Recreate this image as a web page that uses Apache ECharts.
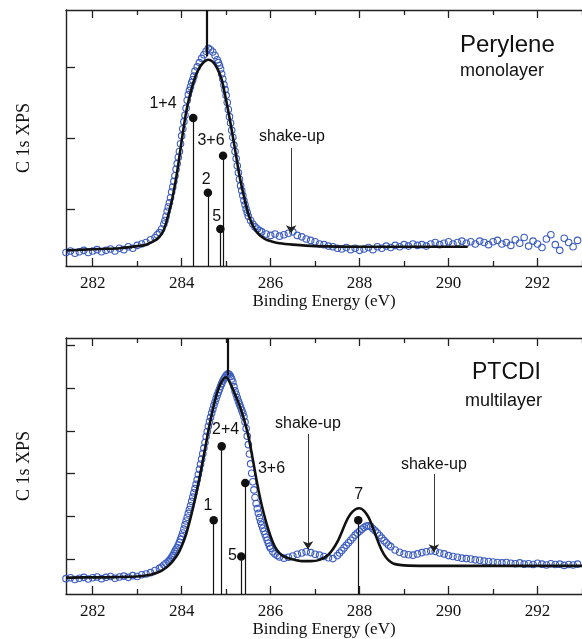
<!DOCTYPE html>
<html>
<head>
<meta charset="utf-8">
<script src="https://cdn.jsdelivr.net/npm/echarts@6/dist/echarts.min.js"></script>
<style>
  html, body { margin: 0; padding: 0; background: #fff; }
  #chart { width: 582px; height: 639px; }
</style>
</head>
<body>
<div id="chart"></div>
<script>
// ===== axis ticks =====
const majorTicks = [282, 284, 286, 288, 290, 292]
const minorTicks = [283, 285, 287, 289, 291, 293]
const topYTicks = [0.8, 1.8, 2.8]
const bottomYTicks = [0.82, 1.82, 2.82, 3.82, 4.82, 5.82]

// ===== Perylene monolayer (top) =====
// measured points [binding energy, intensity]
const topData = [
  [281.4,0.19],[281.5,0.21],[281.6,0.18],[281.7,0.20],[281.8,0.22],[281.9,0.19],[282.0,0.21],[282.1,0.23],
  [282.2,0.20],[282.3,0.22],[282.4,0.24],[282.5,0.21],[282.6,0.25],[282.7,0.23],[282.8,0.27],[282.9,0.25],
  [283.0,0.29],[283.1,0.31],[283.2,0.33],[283.3,0.37],[283.4,0.40],[283.45,0.44],[283.5,0.47],[283.55,0.52],
  [283.6,0.59],[283.625,0.64],[283.65,0.70],[283.675,0.77],[283.7,0.83],[283.725,0.89],[283.75,0.96],[283.775,1.04],
  [283.8,1.11],[283.825,1.19],[283.85,1.27],[283.875,1.36],[283.9,1.44],[283.925,1.53],[283.95,1.61],[283.975,1.72],
  [284.0,1.83],[284.025,1.93],[284.05,2.03],[284.075,2.12],[284.1,2.22],[284.125,2.33],[284.15,2.41],[284.175,2.47],
  [284.2,2.52],[284.225,2.58],[284.25,2.62],[284.275,2.67],[284.3,2.74],[284.35,2.80],[284.4,2.86],[284.45,2.92],
  [284.5,2.97],[284.55,3.02],[284.6,3.06],[284.65,3.04],[284.7,3.01],[284.75,2.96],[284.8,2.90],[284.825,2.86],
  [284.85,2.82],[284.875,2.77],[284.9,2.70],[284.925,2.63],[284.95,2.55],[284.975,2.48],[285.0,2.40],[285.025,2.30],
  [285.05,2.20],[285.075,2.10],[285.1,2.01],[285.125,1.91],[285.15,1.81],[285.175,1.70],[285.2,1.61],[285.225,1.51],
  [285.25,1.41],[285.275,1.31],[285.3,1.22],[285.325,1.13],[285.35,1.06],[285.375,0.99],[285.4,0.92],[285.425,0.86],
  [285.45,0.80],[285.475,0.75],[285.5,0.70],[285.55,0.64],[285.6,0.59],[285.65,0.55],[285.7,0.52],[285.75,0.50],
  [285.8,0.48],[285.9,0.45],[286.0,0.43],[286.1,0.45],[286.2,0.42],[286.3,0.44],[286.4,0.46],[286.5,0.48],
  [286.6,0.43],[286.7,0.41],[286.8,0.38],[286.9,0.36],[287.0,0.34],[287.1,0.31],[287.2,0.30],[287.3,0.28],
  [287.4,0.27],[287.5,0.25],[287.6,0.24],[287.7,0.26],[287.8,0.23],[287.9,0.25],[288.0,0.22],[288.1,0.24],
  [288.2,0.26],[288.3,0.23],[288.4,0.27],[288.5,0.25],[288.6,0.28],[288.7,0.26],[288.8,0.29],[288.9,0.27],
  [289.0,0.30],[289.1,0.28],[289.2,0.31],[289.3,0.29],[289.4,0.30],[289.5,0.28],[289.6,0.31],[289.7,0.33],
  [289.8,0.30],[289.9,0.32],[290.0,0.34],[290.1,0.31],[290.2,0.33],[290.3,0.35],[290.4,0.32],[290.5,0.34],
  [290.6,0.31],[290.7,0.35],[290.8,0.33],[290.9,0.30],[291.0,0.34],[291.1,0.36],[291.2,0.31],[291.3,0.33],
  [291.4,0.29],[291.5,0.37],[291.6,0.32],[291.7,0.40],[291.8,0.28],[291.9,0.35],[292.0,0.31],[292.1,0.26],
  [292.2,0.38],[292.3,0.44],[292.4,0.30],[292.5,0.22],[292.6,0.39],[292.7,0.33],[292.8,0.27],[292.9,0.36]
]
// fitted curve
const topFit = [
  [281.4,0.22],[281.8,0.23],[282.2,0.24],[282.6,0.25],[283.0,0.28],[283.2,0.30],[283.4,0.36],[283.5,0.41],
  [283.6,0.51],[283.7,0.72],[283.8,0.98],[283.9,1.33],[284.0,1.76],[284.1,2.16],[284.2,2.44],[284.3,2.65],
  [284.4,2.79],[284.5,2.87],[284.6,2.90],[284.7,2.87],[284.8,2.78],[284.9,2.62],[285.0,2.33],[285.1,2.00],
  [285.2,1.64],[285.3,1.27],[285.4,0.98],[285.5,0.73],[285.6,0.57],[285.7,0.47],[285.8,0.41],[285.9,0.37],
  [286.0,0.35],[286.2,0.32],[286.5,0.30],[287.0,0.28],[288.0,0.27],[289.0,0.27],[290.0,0.27],[290.43,0.27]
]
// component sticks [energy, height]
const topSticks = [[284.26,2.08],[284.59,1.03],[284.87,0.52],[284.93,1.55]]
// text [energy, intensity, text]
const topLabels = [
  [283.58,2.28,'1+4'],[284.55,1.21,'2'],[284.66,1.77,'3+6'],[284.79,0.70,'5'],[286.48,1.82,'shake-up']
]
// arrows [energy, from, to]
const topArrows = [[286.46,1.66,0.46]]
// peak marker [energy, from, to]
const topPeak = [284.57,2.95,3.6]

// ===== PTCDI multilayer (bottom) =====
const bottomData = [
  [281.4,0.36],[281.5,0.38],[281.6,0.34],[281.7,0.37],[281.8,0.39],[281.9,0.35],[282.0,0.38],[282.1,0.40],
  [282.2,0.36],[282.3,0.39],[282.4,0.41],[282.5,0.37],[282.6,0.40],[282.7,0.42],[282.8,0.39],[282.9,0.43],
  [283.0,0.41],[283.1,0.45],[283.2,0.47],[283.3,0.50],[283.4,0.55],[283.5,0.60],[283.55,0.63],[283.6,0.68],
  [283.65,0.72],[283.7,0.76],[283.725,0.79],[283.75,0.82],[283.775,0.86],[283.8,0.90],[283.825,0.95],[283.85,1.00],
  [283.875,1.05],[283.9,1.09],[283.925,1.15],[283.95,1.21],[283.975,1.28],[284.0,1.35],[284.025,1.43],[284.05,1.52],
  [284.075,1.62],[284.1,1.71],[284.125,1.80],[284.15,1.89],[284.175,1.98],[284.2,2.07],[284.225,2.17],[284.25,2.27],
  [284.275,2.37],[284.3,2.47],[284.325,2.57],[284.35,2.68],[284.375,2.80],[284.4,2.92],[284.425,3.04],[284.45,3.16],
  [284.475,3.29],[284.5,3.42],[284.525,3.55],[284.55,3.69],[284.575,3.81],[284.6,3.93],[284.625,4.04],[284.65,4.14],
  [284.675,4.24],[284.7,4.33],[284.725,4.42],[284.75,4.50],[284.775,4.58],[284.8,4.66],[284.825,4.73],[284.85,4.80],
  [284.875,4.87],[284.9,4.93],[284.925,4.99],[284.95,5.04],[284.975,5.08],[285.0,5.12],[285.025,5.15],[285.05,5.16],
  [285.075,5.14],[285.1,5.10],[285.125,5.04],[285.15,4.97],[285.175,4.86],[285.2,4.76],[285.225,4.68],[285.25,4.60],
  [285.275,4.52],[285.3,4.45],[285.325,4.38],[285.35,4.31],[285.375,4.24],[285.4,4.16],[285.425,4.03],[285.45,3.88],
  [285.475,3.70],[285.5,3.50],[285.525,3.28],[285.55,3.05],[285.575,2.83],[285.6,2.63],[285.625,2.44],[285.65,2.26],
  [285.675,2.12],[285.7,2.00],[285.725,1.89],[285.75,1.79],[285.775,1.70],[285.8,1.62],[285.825,1.54],[285.85,1.47],
  [285.875,1.40],[285.9,1.33],[285.925,1.26],[285.95,1.19],[285.975,1.12],[286.0,1.07],[286.05,0.99],[286.1,0.94],
  [286.15,0.90],[286.2,0.87],[286.3,0.84],[286.4,0.86],[286.5,0.89],[286.6,0.93],[286.7,0.96],[286.8,0.99],
  [286.9,0.97],[287.0,0.93],[287.1,0.91],[287.2,0.88],[287.3,0.85],[287.4,0.83],[287.5,0.90],[287.55,0.96],
  [287.6,1.02],[287.65,1.08],[287.7,1.14],[287.75,1.20],[287.8,1.26],[287.85,1.32],[287.9,1.38],[287.95,1.43],
  [288.0,1.47],[288.05,1.52],[288.1,1.56],[288.15,1.59],[288.2,1.60],[288.25,1.58],[288.3,1.53],[288.35,1.48],
  [288.4,1.43],[288.45,1.37],[288.5,1.31],[288.55,1.25],[288.6,1.20],[288.65,1.15],[288.7,1.11],[288.8,1.03],
  [288.9,0.98],[289.0,0.94],[289.1,0.92],[289.2,0.91],[289.3,0.94],[289.4,0.97],[289.5,0.99],[289.6,1.01],
  [289.7,1.00],[289.8,0.96],[289.9,0.94],[290.0,0.90],[290.1,0.88],[290.2,0.86],[290.3,0.84],[290.4,0.83],
  [290.5,0.82],[290.6,0.80],[290.7,0.79],[290.8,0.77],[290.9,0.76],[291.0,0.75],[291.1,0.74],[291.2,0.73],
  [291.3,0.74],[291.4,0.72],[291.5,0.71],[291.6,0.73],[291.7,0.70],[291.8,0.71],[291.9,0.69],[292.0,0.72],
  [292.1,0.70],[292.2,0.68],[292.3,0.71],[292.4,0.69],[292.5,0.70],[292.6,0.67],[292.7,0.69],[292.8,0.68],
  [292.9,0.70]
]
const bottomFit = [
  [281.4,0.38],[281.8,0.39],[282.2,0.39],[282.6,0.40],[283.0,0.41],[283.3,0.45],[283.5,0.52],[283.6,0.58],
  [283.7,0.66],[283.8,0.77],[283.9,0.91],[284.0,1.12],[284.1,1.40],[284.2,1.78],[284.3,2.22],[284.4,2.72],
  [284.5,3.26],[284.6,3.82],[284.7,4.32],[284.8,4.72],[284.9,4.98],[285.0,5.08],[285.1,4.92],[285.2,4.68],
  [285.3,4.42],[285.4,4.10],[285.5,3.70],[285.6,3.15],[285.7,2.58],[285.8,2.08],[285.9,1.68],[286.0,1.35],
  [286.1,1.10],[286.2,0.96],[286.3,0.88],[286.5,0.81],[286.7,0.77],[286.9,0.77],[287.1,0.80],[287.3,0.92],
  [287.5,1.22],[287.7,1.70],[287.8,1.88],[287.9,1.98],[288.0,2.01],[288.1,1.95],[288.2,1.80],[288.3,1.55],
  [288.4,1.27],[288.5,1.02],[288.6,0.85],[288.7,0.75],[288.8,0.70],[289.0,0.67],[289.5,0.66],[290.0,0.66],
  [291.0,0.66],[292.0,0.66],[293.0,0.66]
]
const bottomSticks = [[284.72,1.73],[284.90,3.46],[285.34,0.88],[285.43,2.60],[287.97,1.73]]
const bottomLabels = [
  [284.59,2.07,'1'],[284.99,3.86,'2+4'],[285.14,0.90,'5'],[286.02,2.95,'3+6'],[287.98,2.34,'7'],
  [286.84,4.00,'shake-up'],[289.67,3.03,'shake-up']
]
const bottomArrows = [[286.84,3.75,1.05],[289.67,2.81,0.98]]
const bottomPeak = [285.04,5.12,6.0]

// ===== styles =====
const INK = '#111'
const BLUE = '#3c5dc0'
const SERIF = '"Liberation Serif", "DejaVu Serif", serif'
const SANS = '"Liberation Sans", Arial, sans-serif'
const axisLine = { onZero: false, lineStyle: { color: '#222', width: 1.4 } }
const tickLine = { color: '#222', width: 1.3 }

const grids = [
  { left: 66, top: 10, width: 527, height: 256 },
  { left: 66, top: 338, width: 527, height: 257 },
]

function xAxesFor(gi) {
  const base = { type: 'value', gridIndex: gi, min: 281.4, max: 293, splitLine: { show: false } }
  return [
    {
      ...base, position: 'bottom', axisLine,
      axisTick: { inside: true, length: 8, customValues: majorTicks, lineStyle: tickLine },
      axisLabel: { customValues: majorTicks, margin: 9, color: '#111', fontSize: 17, fontFamily: SERIF },
      name: 'Binding Energy (eV)', nameLocation: 'middle', nameGap: 27,
      nameTextStyle: { color: '#111', fontSize: 17, fontFamily: SERIF },
    },
    {
      ...base, position: 'bottom', axisLine: { show: false, onZero: false },
      axisTick: { inside: true, length: 5, customValues: minorTicks, lineStyle: tickLine },
      axisLabel: { show: false },
    },
    {
      ...base, position: 'top', axisLine,
      axisTick: { inside: true, length: 8, customValues: majorTicks, lineStyle: tickLine },
      axisLabel: { show: false },
    },
    {
      ...base, position: 'top', axisLine: { show: false, onZero: false },
      axisTick: { inside: true, length: 5, customValues: minorTicks, lineStyle: tickLine },
      axisLabel: { show: false },
    },
  ]
}

function yAxisFor(gi, max, ticks) {
  return {
    type: 'value', gridIndex: gi, min: 0, max, position: 'left',
    splitLine: { show: false }, axisLine,
    axisTick: { inside: true, length: 9, customValues: ticks, lineStyle: tickLine },
    axisLabel: { show: false },
    name: 'C 1s XPS', nameLocation: 'middle', nameGap: 33,
    nameTextStyle: { color: '#111', fontSize: 18, fontFamily: SERIF },
  }
}

function panelSeries(gi, data, fit, sticks, labels, arrows, peak) {
  const ax = { xAxisIndex: gi * 4, yAxisIndex: gi }
  return [
    {
      type: 'scatter', ...ax, data, symbol: 'circle', symbolSize: 6.5, z: 2, silent: true,
      itemStyle: { color: 'rgba(255,255,255,0)', borderColor: BLUE, borderWidth: 1.1, opacity: 1 },
      markLine: {
        silent: true, symbol: 'none', label: { show: false },
        lineStyle: { color: INK, width: 2.2, type: 'solid', opacity: 1 },
        data: [[{ coord: [peak[0], peak[1]] }, { coord: [peak[0], peak[2]] }]],
      },
    },
    {
      type: 'line', ...ax, data: fit, smooth: 0.3, showSymbol: false, z: 3, silent: true,
      lineStyle: { color: INK, width: 2.6 },
      markLine: {
        silent: true, symbol: ['none', 'arrow'], symbolSize: 8, label: { show: false },
        lineStyle: { color: '#222', width: 0.9, type: 'solid', opacity: 1 },
        data: arrows.map(a => [{ coord: [a[0], a[1]] }, { coord: [a[0], a[2]] }]),
      },
    },
    {
      type: 'scatter', ...ax, data: sticks, symbol: 'circle', symbolSize: 8.5, z: 4, silent: true,
      itemStyle: { color: INK, opacity: 1 },
      markLine: {
        silent: true, symbol: 'none', label: { show: false },
        lineStyle: { color: INK, width: 1.2, type: 'solid', opacity: 1 },
        data: sticks.map(s => [{ coord: [s[0], 0] }, { coord: [s[0], s[1]] }]),
      },
    },
    {
      type: 'scatter', ...ax, data: labels, symbolSize: 0, z: 5, silent: true,
      itemStyle: { opacity: 1 },
      label: {
        show: true, position: 'inside', formatter: p => p.value[2],
        color: '#111', fontSize: 16, fontFamily: SANS,
      },
    },
  ]
}

const chart = echarts.init(document.getElementById('chart'))
chart.setOption({
  animation: false,
  backgroundColor: '#fff',
  grid: grids,
  xAxis: [...xAxesFor(0), ...xAxesFor(1)],
  yAxis: [yAxisFor(0, 3.6, topYTicks), yAxisFor(1, 6.0, bottomYTicks)],
  series: [
    ...panelSeries(0, topData, topFit, topSticks, topLabels, topArrows, topPeak),
    ...panelSeries(1, bottomData, bottomFit, bottomSticks, bottomLabels, bottomArrows, bottomPeak),
  ],
  graphic: [
    { type: 'text', left: 460, top: 33, style: { text: 'Perylene', fill: '#111', font: '24px ' + SANS } },
    { type: 'text', left: 460, top: 62, style: { text: 'monolayer', fill: '#111', font: '18px ' + SANS } },
    { type: 'text', left: 472, top: 361, style: { text: 'PTCDI', fill: '#111', font: '23px ' + SANS } },
    { type: 'text', left: 465, top: 392, style: { text: 'multilayer', fill: '#111', font: '18px ' + SANS } },
  ],
})
</script>
</body>
</html>
